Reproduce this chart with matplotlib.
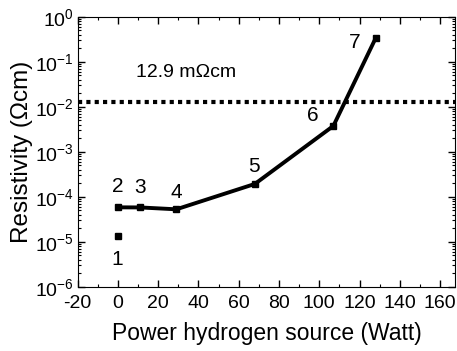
"""Resistivity versus hydrogen source power, log scale."""
import matplotlib
matplotlib.use('Agg')
import matplotlib.pyplot as plt
from matplotlib.ticker import LogLocator, MultipleLocator, NullFormatter

plt.rcParams['font.family'] = ['Liberation Sans', 'DejaVu Sans']
plt.rcParams['mathtext.fontset'] = 'custom'
plt.rcParams['mathtext.rm'] = 'Liberation Sans'
plt.rcParams['mathtext.default'] = 'regular'
plt.rcParams['axes.unicode_minus'] = False

# sample 1 stands alone, samples 2-7 form the connected series
power_single = [0]
rho_single = [1.34e-5]
power = [0, 11, 29, 68, 107, 128]
rho = [5.83e-5, 5.8e-5, 5.27e-5, 1.93e-4, 3.76e-3, 0.336]

limit_rho = 12.9e-3
limit_text = '12.9 m\u03a9cm'

sample_labels = ['1', '2', '3', '4', '5', '6', '7']
label_x = [-0.4, 0.1, 11.0, 28.9, 67.7, 96.8, 117.8]
label_y = [4.13e-6, 1.68e-4, 1.64e-4, 1.23e-4, 4.68e-4, 6.28e-3, 0.268]

fig = plt.figure(figsize=(4.57, 3.51), dpi=100)
ax = fig.add_axes([0.170, 0.183, 0.826, 0.769])

ax.axhline(limit_rho, color='black', linewidth=3, linestyle=(0, (1, 1)),
           dash_capstyle='butt')
ax.plot(power, rho, color='black', linewidth=2.8, marker='s', markersize=4.5,
        solid_joinstyle='miter')
ax.plot(power_single, rho_single, linestyle='none', color='black', marker='s',
        markersize=4.5)

for text, x, y in zip(sample_labels, label_x, label_y):
    ax.text(x, y, text, fontsize=15, ha='center', va='center')
ax.text(33.6, 0.0568, limit_text, fontsize=14, ha='center', va='center')

ax.set_yscale('log')
ax.set_xlim(-20, 167.5)
ax.set_ylim(1e-6, 1)
ax.xaxis.set_major_locator(MultipleLocator(20))
ax.xaxis.set_minor_locator(MultipleLocator(10))
ax.yaxis.set_major_locator(LogLocator(base=10, numticks=10))
ax.yaxis.set_minor_locator(LogLocator(base=10, subs=range(2, 10), numticks=10))
ax.yaxis.set_minor_formatter(NullFormatter())

ax.tick_params(which='both', direction='in', top=True, right=True, labelsize=14)
ax.tick_params(which='major', length=5, width=1)
ax.tick_params(which='minor', length=2.5, width=0.8)
ax.tick_params(axis='x', pad=6)
ax.tick_params(axis='y', pad=3)

ax.set_xlabel('Power hydrogen source (Watt)', fontsize=16.5, labelpad=7)
ax.set_ylabel('Resistivity (\u03a9cm)', fontsize=17.5, labelpad=1)

fig.savefig('out.png', dpi=100)
